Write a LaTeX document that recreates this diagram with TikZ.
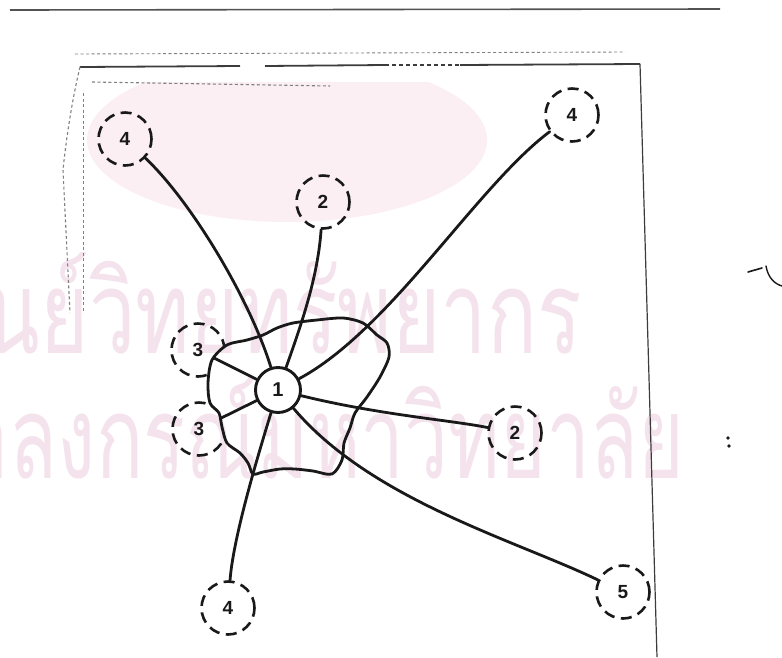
\documentclass[tikz,border=0pt]{standalone}
\usepackage{fontspec}
\newfontfamily\labfont{Liberation Sans}
\newfontfamily\thaifont[Script=Thai]{Loma}
\definecolor{ink}{RGB}{25,25,25}
\definecolor{wmark}{RGB}{244,227,236}
\definecolor{emblem}{RGB}{251,239,244}
\begin{document}
\begin{tikzpicture}[x=1pt,y=-1pt,
  sub/.style={circle, draw=ink, line width=2.6pt, dash pattern=on 11pt off 6.5pt,
    minimum size=53pt, inner sep=0pt, text=ink,
    font=\labfont\bfseries\fontsize{19}{19}\selectfont},
  hub/.style={circle, draw=ink, line width=2.9pt, minimum size=45pt, inner sep=0pt,
    text=ink, font=\labfont\bfseries\fontsize{20}{20}\selectfont},
  link/.style={draw=ink, line width=2.8pt, line cap=round},
  region/.style={draw=ink, line width=2.8pt, line join=round},
  frameline/.style={draw=ink!85, line width=1.8pt},
  faint/.style={draw=ink!55, line width=0.9pt, dash pattern=on 3pt off 2.5pt},
  wm/.style={inner sep=0pt, text=wmark, font=\thaifont\fontsize{115}{115}\selectfont}]
\useasboundingbox (0,0) rectangle (782,657);
\fill[white] (0,0) rectangle (782,657);

% watermark
\begin{scope}
  \clip (0,82) rectangle (782,657);
  \fill[emblem] (287,140) ellipse [x radius=200, y radius=82];
\end{scope}
\node[wm, anchor=base east] (wm1) at (582,353) {\scalebox{0.72}[1]{ศูนย์วิทยทรัพยากร}};
\node[wm, anchor=base east] (wm2) at (684,478) {\scalebox{0.68}[1]{จุฬาลงกรณ์มหาวิทยาลัย}};

% frame and scan marks
\draw[frameline, line width=1.6pt, draw=ink!75] (10,10) -- (720,9);
\draw[faint] (75,54) -- (625,52);
\draw[frameline] (80,67) -- (240,66);
\draw[frameline] (265,66) -- (385,65);
\draw[frameline, dash pattern=on 4pt off 3pt] (385,65) -- (460,65);
\draw[frameline] (460,65) -- (640,64);
\draw[draw=ink!85, line width=1.2pt] (640,64) -- (657,657);
\draw[faint, line width=1.1pt] (92,82) -- (330,86);
\draw[faint, line width=1.1pt] (80,67) .. controls (72,100) and (66,140) .. (63,170) -- (70,313);
\draw[faint] (83,93) -- (83,313);
\draw[ink, line width=1.6pt, line cap=round] (748,272) -- (762,268);
\draw[ink, line width=1.4pt, line cap=round] (766,266) .. controls (768,278) and (775,284) .. (782,286);
\fill[ink] (728,438) circle [radius=1.8];
\fill[ink] (729,446) circle [radius=1.8];

% satellite circles partly hidden by the region
\begin{scope}
  \clip (0,300) -- (260,300) -- (247,340) -- (227,345) -- (212,360) -- (208,383)
    -- (210,403) -- (220,413) -- (222,427) -- (227,443) -- (240,453) -- (250,467)
    -- (250,500) -- (0,500) -- cycle;
  \node[sub] (t3a) at (198,350) {3};
  \node[sub] (t3b) at (199,429) {3};
\end{scope}
\node[sub] (t4a) at (125,139) {4};
\node[sub] (t2a) at (323,202) {2};
\node[sub] (t4b) at (572,115) {4};
\node[sub] (t2b) at (515,433) {2};
\node[sub] (t5)  at (623,592) {5};
\node[sub] (t4c) at (228,608) {4};

% irregular region
\draw[region] plot[smooth cycle, tension=0.5] coordinates {
  (212,360) (227,345) (247,340) (263,335) (277,328) (293,323) (317,320) (343,318)
  (363,323) (377,335) (387,343) (389,357) (380,377) (367,397) (355,413) (350,428)
  (344,443) (342,460) (332,474) (313,471) (295,469) (280,469) (263,472) (253,474)
  (248,463) (240,453) (227,443) (222,427) (219,413) (210,403) (208,383)};

% hub
\node[hub] (n1) at (278,390) {1};

% connectors
\draw[link] (n1) .. controls (249,297) and (190,200) .. (t4a);
\draw[link] (n1) .. controls (303,320) and (318,275) .. (t2a);
\draw[link] (n1) .. controls (390,330) and (477,186) .. (t4b);
\draw[link, shorten >=-10pt] (n1) -- (t3a);
\draw[link, shorten >=-4pt] (n1) -- (t3b);
\draw[link] (n1) .. controls (380,415) and (450,420) .. (t2b);
\draw[link] (n1) .. controls (371,500) and (515,540) .. (t5);
\draw[link] (n1) .. controls (255,465) and (233,540) .. (t4c);
\end{tikzpicture}
\end{document}
